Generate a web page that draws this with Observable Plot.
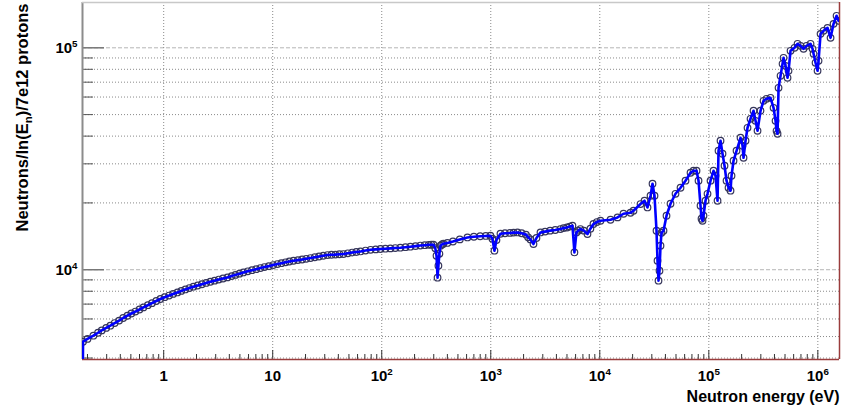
<!DOCTYPE html>
<html>
<head>
<meta charset="utf-8">
<script src="https://cdn.jsdelivr.net/npm/d3@7"></script>
<script src="https://cdn.jsdelivr.net/npm/@observablehq/plot@0.6"></script>
<style>
  html, body { margin: 0; padding: 0; background: #fff; }
  #chart { width: 841px; height: 410px; }
</style>
</head>
<body>
<div id="chart"></div>
<script>
// Neutron energy (eV)
const energy = [
  0.181, 0.182, 0.2, 0.2265, 0.25, 0.27, 0.297, 0.324, 0.355, 0.39, 0.425, 0.4645, 0.505, 0.55, 0.6, 0.651, 0.715, 0.78, 0.855, 0.933,
  1.02, 1.12, 1.22, 1.336, 1.45, 1.58, 1.72, 1.873, 2.05, 2.24, 2.45, 2.68, 2.93, 3.2, 3.5, 3.84, 4.2, 4.55, 4.95, 5.38,
  5.9, 6.45, 7.05, 7.71, 8.4, 9.2, 10.1, 11.05, 12.0, 13.1, 14.2, 15.5, 17.0, 18.6, 20.3, 22.2, 24.3, 26.6, 29.1, 31.8,
  34.6, 37.6, 40.9, 44.5, 48.8, 53.5, 58.4, 63.8, 71, 79, 88, 97.3, 108, 120, 133, 148, 165, 183, 204, 226,
  248, 270, 285, 298, 310, 318, 325, 331, 338, 346, 357, 368, 400, 450, 520, 611, 700, 800, 900, 993,
  1035, 1081, 1128, 1227, 1350, 1500, 1620, 1758, 1920, 2100, 2200, 2312, 2465, 2625, 2857, 3150, 3500, 3900, 4357, 4650,
  5000, 5300, 5613, 5853, 6105, 6350, 6640, 7150, 7710, 8200, 8750, 9400,
  10150, 12540, 14540, 16500, 19130, 20380, 23630, 25720, 27390, 29190,
  30450, 31760, 33130, 33840, 34560, 35300, 36050, 36820, 38410, 40920,
  44530, 49490, 55010, 61130, 67950, 72390, 77150, 80460, 83930, 85700,
  87540, 89410, 93270, 97290, 103660, 110440, 115200, 120200, 122740, 128040,
  133570, 139330, 145360, 151610, 158170, 161560, 168530, 179560, 195370, 203810,
  208150, 217130, 226480, 241310, 257080, 268180, 279760, 298060, 317560, 338340,
  368250, 392350, 409260, 418020, 426970, 436070, 454920, 474520, 484660, 505600,
  527230, 538510, 561760, 611320, 651370, 694000, 739500, 787900, 857000, 894200,
  913300, 952700, 993700, 1015000, 1059000, 1128000, 1227000, 1308000, 1393000, 1485000,
  1549000
];
// Neutrons / ln(E_n) / 7e12 protons
const flux = [
  3000, 4740, 4880, 5043, 5200, 5330, 5470, 5594, 5750, 5900, 6060, 6205, 6350, 6480, 6620, 6764, 6920, 7070, 7230, 7380,
  7520, 7650, 7780, 7900, 8030, 8150, 8270, 8384, 8490, 8600, 8720, 8829, 8930, 9030, 9130, 9233, 9360, 9480, 9600, 9723,
  9840, 9950, 10060, 10178, 10280, 10380, 10500, 10609, 10700, 10800, 10890, 10978, 11050, 11120, 11200, 11290, 11380, 11470, 11560, 11647,
  11680, 11700, 11740, 11768, 11860, 11950, 12020, 12090, 12200, 12300, 12350, 12400, 12440, 12480, 12520, 12565, 12630, 12700, 12780, 12850,
  12900, 12950, 12960, 12962, 12500, 11563, 9205, 10423, 11800, 12830, 13000, 13096, 13200, 13400, 13700, 13981, 14080, 14150, 14200, 14230,
  13800, 12180, 13600, 14527, 14600, 14650, 14700, 14723, 14600, 14400, 14000, 13700, 13056, 13900, 14723, 14850, 15000, 15100, 15253, 15400,
  15500, 15650, 15786, 11964, 14723, 15000, 15253, 15000, 14481, 15300, 16068, 16400,
  16626, 16800, 17206, 17876, 18060, 18443, 19765, 20460, 19080, 21540,
  24400, 21540, 14985, 10980, 8923, 9897, 12830, 14680, 14985, 17510,
  19830, 21990, 23410, 25180, 27350, 27920, 27920, 25180, 19420, 16970,
  16626, 17510, 20460, 21990, 25180, 27920, 26510, 20460, 34360, 38120,
  33310, 29410, 25180, 23410, 22700, 26510, 30970, 34360, 39320, 36200,
  31950, 38120, 43610, 47880, 52030, 46900, 42270, 52030, 57710, 58920,
  59530, 53650, 46900, 42270, 40990, 66050, 74800, 84720, 90160, 82970,
  73270, 78780, 96940, 100000, 104240, 102100, 98970, 102100, 104240, 98970,
  93970, 85600, 78780, 87400, 115600, 119300, 123000, 110900, 128200, 139400,
  132300
];

const xDomain = [0.18, 1.58e6];
const yDomain = [3940, 1.6e5];
const xDecades = [1, 10, 100, 1000, 1e4, 1e5, 1e6];
const yDecades = [1e4, 1e5];
const tickMultipliers = [2, 3, 4, 5, 6, 7, 8, 9];
const xTitle = "Neutron energy (eV)";
const yTitle = "Neutrons/ln(E_n)/7e12 protons";

const data = energy.map((e, i) => ({e, f: flux[i]}));

const inRange = (v, dom) => v >= dom[0] && v <= dom[1];
const xMinor = [0.1, ...xDecades].flatMap(d => tickMultipliers.map(m => d * m)).filter(v => inRange(v, xDomain));
const yMinor = [1000, ...yDecades].flatMap(d => tickMultipliers.map(m => d * m)).filter(v => inRange(v, yDomain));

const W = 841, H = 410, mL = 82, mR = 2, mT = 2, mB = 51;
const frameW = W - mL - mR, frameH = H - mT - mB;

const fmt = d => d < 100 ? String(d) : "10^" + Math.round(Math.log10(d));

const plot = Plot.plot({
  width: W, height: H,
  marginLeft: mL, marginRight: mR, marginTop: mT, marginBottom: mB,
  style: {fontFamily: "'Liberation Sans', Arial, sans-serif", background: "#fff", color: "#000"},
  x: {type: "log", domain: xDomain},
  y: {type: "log", domain: yDomain},
  marks: [
    Plot.gridY(yMinor, {stroke: "#8a8a8a", strokeOpacity: 1, strokeDasharray: "1,2"}),
    Plot.gridY(yDecades, {stroke: "#b5b5b5", strokeOpacity: 1, strokeDasharray: "4,2"}),
    Plot.gridX(xDecades, {stroke: "#8a8a8a", strokeOpacity: 1, strokeDasharray: "1,2"}),
    // left axis ticks (inside the frame)
    Plot.tickY(yMinor, {y: d => d, stroke: "#555", insetRight: frameW - 11}),
    Plot.tickY(yDecades, {y: d => d, stroke: "#777", strokeWidth: 1.5, insetRight: frameW - 22}),
    // bottom axis ticks
    Plot.tickX(xMinor, {x: d => d, stroke: "#333", insetTop: frameH - 5}),
    Plot.tickX(xDecades, {x: d => d, stroke: "#333", insetTop: frameH - 9}),
    // frame
    Plot.ruleX([xDomain[0]], {stroke: "#8c8c8c", strokeWidth: 2}),
    Plot.ruleY([yDomain[1]], {stroke: "#c8c8c8", strokeWidth: 1.5}),
    Plot.ruleY([yDomain[0]], {stroke: "#9a3c3c", strokeWidth: 1.5}),
    Plot.ruleX([xDomain[1]], {stroke: "#9a3c3c", strokeWidth: 1.5}),
    // data
    Plot.dot(data, {x: "e", y: "f", r: 3.3, fill: "none", stroke: "#35355a", strokeWidth: 1.2, clip: true}),
    Plot.line(data, {x: "e", y: "f", stroke: "#0000ff", strokeWidth: 2.6, clip: true}),
    // axes labels
    Plot.axisX(xDecades, {tickFormat: fmt, tickSize: 0, tickPadding: 11, fontSize: 15, fontWeight: "bold", label: null}),
    Plot.axisY(yDecades, {tickFormat: fmt, tickSize: 0, tickPadding: 5, fontSize: 15, fontWeight: "bold", label: null}),
    // titles
    Plot.text([xTitle], {text: d => d, frameAnchor: "bottom-right", textAnchor: "end", lineAnchor: "middle", dy: 37, fontSize: 16, fontWeight: "bold"}),
    Plot.text([yTitle], {text: d => d, frameAnchor: "top-left", textAnchor: "end", lineAnchor: "middle", rotate: -90, dx: -60, dy: 1, fontSize: 16.5, fontWeight: "bold"})
  ]
});

// superscripts / subscripts as real text
const NS = "http://www.w3.org/2000/svg";
plot.querySelectorAll("text").forEach(t => {
  const s = t.textContent;
  let m = s.match(/^10\^(\d+)$/);
  if (m) {
    t.textContent = "10";
    const sup = document.createElementNS(NS, "tspan");
    sup.setAttribute("dy", "-0.6em");
    sup.setAttribute("font-size", "0.65em");
    sup.textContent = m[1];
    t.appendChild(sup);
    return;
  }
  if (s === yTitle) {
    const [a, rest] = s.split("_n");
    t.textContent = a;
    const sub = document.createElementNS(NS, "tspan");
    sub.setAttribute("dy", "0.35em");
    sub.setAttribute("font-size", "0.7em");
    sub.textContent = "n";
    t.appendChild(sub);
    const r = document.createElementNS(NS, "tspan");
    r.setAttribute("dy", "-0.25em");
    r.setAttribute("font-size", "1em");
    r.textContent = rest;
    t.appendChild(r);
  }
});

document.getElementById("chart").appendChild(plot);
</script>
</body>
</html>
